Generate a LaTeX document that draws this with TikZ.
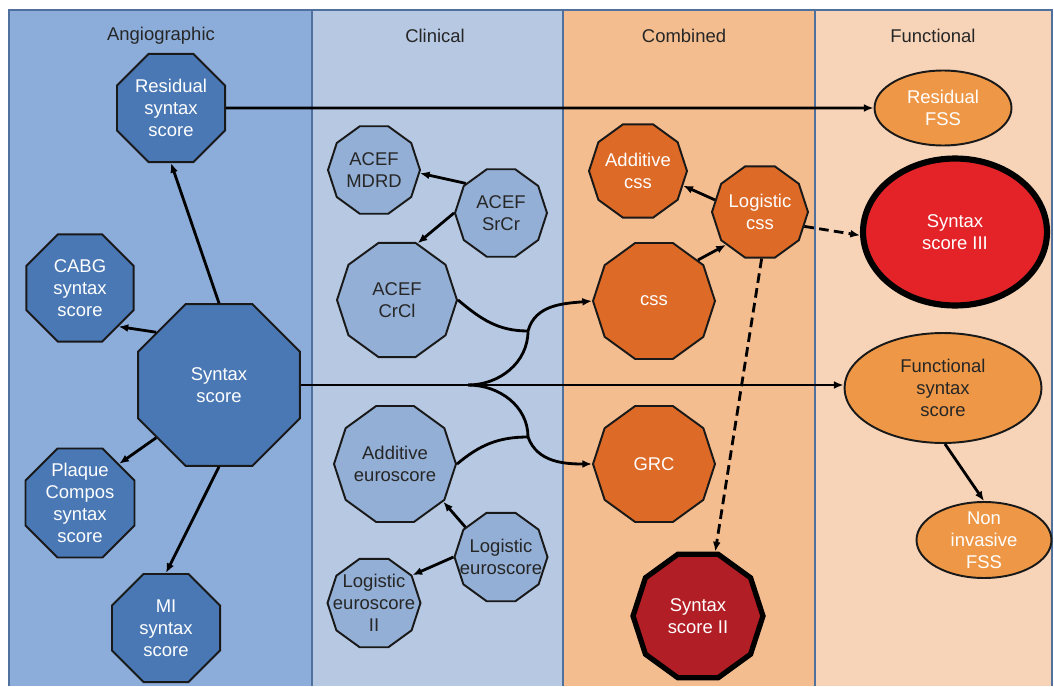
\documentclass[tikz,border=0pt]{standalone}
\usepackage{fontspec}
\setmainfont{Liberation Sans}
\usetikzlibrary{shapes.geometric,arrows.meta}

\begin{document}
\begin{tikzpicture}[x=0.02cm,y=-0.02cm,
  every node/.style={font=\fontsize{10.5}{12.5}\selectfont, align=center, text=black!85},
  octa/.style={regular polygon, regular polygon sides=8, draw=black!90, line width=1.1pt, inner sep=0pt, fill=angnode, text=white},
  deca/.style={regular polygon, regular polygon sides=10, draw=black!90, line width=1.1pt, inner sep=0pt},
  clin/.style={deca, fill=clinnode},
  comb/.style={deca, fill=combnode, text=white},
  func/.style={ellipse, draw=black!90, line width=1.1pt, inner sep=0pt, fill=funcnode, text=white},
  tight/.style={inner sep=-14pt},
  link/.style={line width=1.6pt, -{Latex[length=5.5pt,width=4.5pt]}},
  hint/.style={link, dash pattern=on 5.5pt off 3pt}]

% Colors for each panel and node kind
\definecolor{angbg}{RGB}{140,173,217}
\definecolor{clinbg}{RGB}{183,200,226}
\definecolor{combbg}{RGB}{243,189,143}
\definecolor{funcbg}{RGB}{247,212,184}
\definecolor{panelline}{RGB}{80,112,158}
\definecolor{angnode}{RGB}{74,120,180}
\definecolor{clinnode}{RGB}{147,175,213}
\definecolor{combnode}{RGB}{221,106,38}
\definecolor{funcnode}{RGB}{238,152,71}
\definecolor{darkred}{RGB}{178,30,37}
\definecolor{brightred}{RGB}{228,35,40}

\useasboundingbox (0,0) rectangle (1054,686);

% Panels
\fill[angbg] (9,10) rectangle (312,686);
\fill[clinbg] (312,10) rectangle (563,686);
\fill[combbg] (563,10) rectangle (815,686);
\fill[funcbg] (815,10) rectangle (1052,686);
\foreach \x in {312,563,815} {
  \draw[panelline, line width=1.1pt] (\x,10) -- (\x,686);
}
\draw[panelline, line width=1.6pt] (9,686) -- (9,10) -- (1052,10) -- (1052,686);

% Panel titles
\node (tangio) at (161,36) {Angiographic};
\node (tclin) at (435,36) {Clinical};
\node (tcomb) at (684,36) {Combined};
\node (tfunc) at (933,36) {Functional};

% Angiographic scores
\node[octa, minimum size=3.5cm] (syn) at (219,385) {Syntax\\score};
\node[octa, minimum size=2.34cm] (res) at (171,108) {Residual\\syntax\\score};
\node[octa, minimum size=2.32cm] (cabg) at (80,288) {CABG\\syntax\\score};
\node[octa, tight, minimum size=2.36cm] (plaque) at (80,503) {Plaque\\Compos\\syntax\\score};
\node[octa, minimum size=2.34cm] (mi) at (166,628) {MI\\syntax\\score};

% Clinical scores
\node[clin, minimum size=1.84cm] (mdrd) at (374,170) {ACEF\\MDRD};
\node[clin, minimum size=1.84cm] (srcr) at (501,213) {ACEF\\SrCr};
\node[clin, minimum size=2.4cm] (crcl) at (397,300) {ACEF\\CrCl};
\node[clin, minimum size=2.4cm] (addeu) at (395,464) {Additive\\euroscore};
\node[clin, tight, minimum size=1.86cm] (logeu) at (501,557) {Logistic\\euroscore};
\node[clin, tight, minimum size=1.86cm] (logeutwo) at (374,603) {Logistic\\euroscore\\II};

% Combined scores
\node[comb, minimum size=1.96cm] (addcss) at (638,171) {Additive\\css};
\node[comb, minimum size=1.92cm] (logcss) at (760,212) {Logistic\\css};
\node[comb, minimum size=2.44cm] (css) at (654,301) {css};
\node[comb, minimum size=2.44cm] (grc) at (654,464) {GRC};
\node[comb, minimum size=2.6cm, fill=darkred, line width=3pt, draw=black] (syntwo) at (698,616) {Syntax\\score II};

% Functional scores
\node[func, minimum width=2.74cm, minimum height=1.5cm] (rfss) at (943,108) {Residual\\FSS};
\node[func, minimum width=3.68cm, minimum height=2.94cm, fill=brightred, line width=3.5pt, draw=black] (synthree) at (955,232) {Syntax\\score III};
\node[func, minimum width=3.94cm, minimum height=2.2cm, text=black!85] (fss) at (943,388) {Functional\\syntax\\score};
\node[func, tight, minimum width=2.7cm, minimum height=1.52cm] (nfss) at (984,540) {Non\\invasive\\FSS};

% Straight links
\draw[link] (res.east) -- (rfss.west);
\draw[link] (syn.east) -- (syn.east -| fss.west);
\draw[link] (syn.north) -- (res.south);
\draw[link] (syn.140) -- (cabg.-45);
\draw[link] (syn.-140) -- (plaque.45);
\draw[link] (syn.south) -- (mi.north);
\draw[link] (srcr.140) -- (mdrd.-4);
\draw[link] (srcr.west) -- (crcl.70);
\draw[link] (logeu.140) -- (addeu.-38);
\draw[link] (logeu.west) -- (logeutwo.36);
\draw[link] (logcss.165) -- (addcss.-18);
\draw[link] (css.43) -- (logcss.-136);
\draw[link] (fss.-88) -- (nfss.north);

% Dashed links
\draw[hint] (logcss.-18) -- (synthree.182);
\draw[hint] (logcss.-88) -- (syntwo.75);

% Fork into css and GRC
\coordinate (fork) at (468,385);
\coordinate (jup) at (528,331);
\coordinate (jdn) at (528,437);
\draw[line width=1.6pt] (fork) to[out=0,in=-90] (jup);
\draw[line width=1.6pt] (crcl.east) to[out=-40,in=180] (jup);
\draw[link] (jup) to[out=75,in=185] (css.west);
\draw[line width=1.6pt] (fork) to[out=0,in=90] (jdn);
\draw[line width=1.6pt] (addeu.east) to[out=40,in=180] (jdn);
\draw[link] (jdn) to[out=-70,in=180] (grc.west);

\end{tikzpicture}
\end{document}
